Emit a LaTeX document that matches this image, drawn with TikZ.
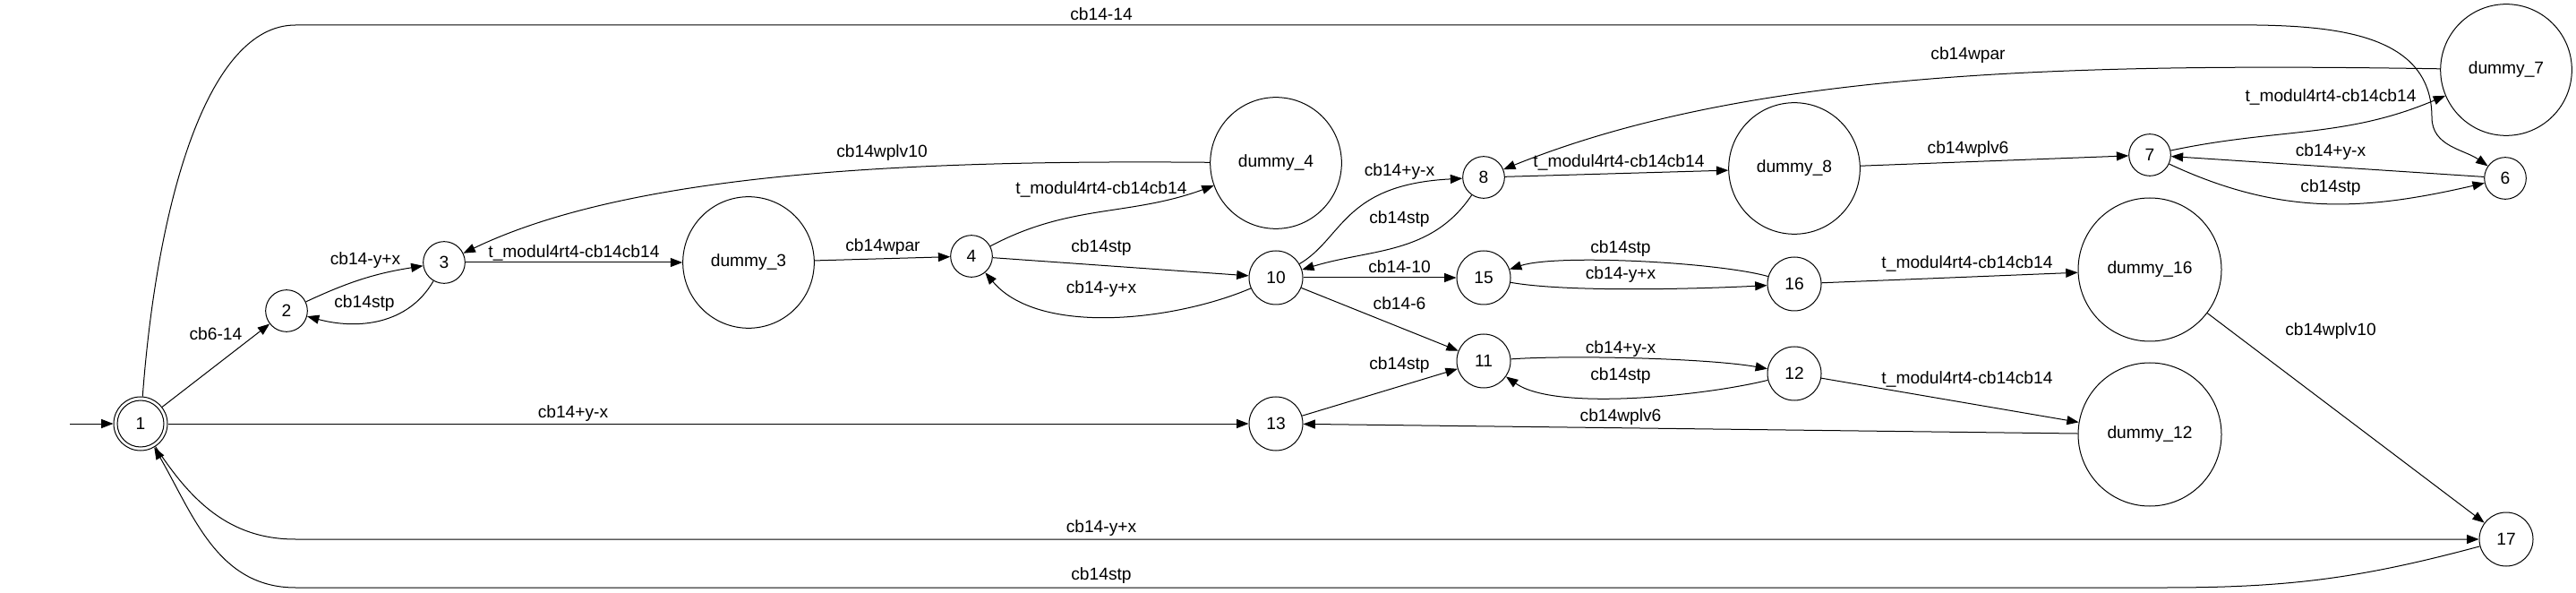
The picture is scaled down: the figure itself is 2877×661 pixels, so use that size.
\documentclass[tikz,border=0pt]{standalone}
\usepackage{fontspec}
\setmainfont{Liberation Sans}
\usetikzlibrary{arrows.meta,positioning}

\begin{document}
\begin{tikzpicture}[x=0.75pt,y=0.75pt,
		every node/.style={font=\fontsize{14.4}{16}\selectfont},
		st/.style={draw,circle,inner sep=0pt,minimum size=35pt,line width=0.75pt},
		st2/.style={st,minimum size=45pt},
		dum/.style={st,minimum size=110pt},
		dum2/.style={st,minimum size=120pt},
		edge/.style={line width=0.75pt,-{Triangle[length=10pt,width=7.5pt]}},
		lbl/.style={inner sep=0pt}]
		\useasboundingbox (0,0) rectangle (2877,661);
		% states
		\node[st2] (n1) at (157,188) {1};
		\draw[line width=0.75pt] (n1.center) circle[radius=19.5pt];
		\node[st] (n2) at (320,314) {2};
		\node[st] (n3) at (496,368) {3};
		\node[dum] (d3) at (836,368) {dummy\_3};
		\node[st] (n4) at (1085,375) {4};
		\node[dum] (d4) at (1425,479) {dummy\_4};
		\node[st2] (n10) at (1425,351) {10};
		\node[st2] (n13) at (1425,188) {13};
		\node[st] (n8) at (1657,463) {8};
		\node[st2] (n15) at (1657,351) {15};
		\node[st2] (n11) at (1657,258) {11};
		\node[dum] (d8) at (2004,473) {dummy\_8};
		\node[st2] (n16) at (2004,344) {16};
		\node[st2] (n12) at (2004,244) {12};
		\node[st] (n7) at (2401,488) {7};
		\node[dum2] (d16) at (2401,360) {dummy\_16};
		\node[dum2] (d12) at (2401,176) {dummy\_12};
		\node[dum] (d7) at (2799,583) {dummy\_7};
		\node[st] (n6) at (2798,462) {6};
		\node[st2] (n17) at (2799,59) {17};
		\coordinate (init) at (78,188);
		% labels
		\node[lbl] (l1) at (241,288) {cb6-14};
		\node[lbl] (l2) at (408,370) {cb14-y+x};
		\node[lbl] (l3) at (407,322) {cb14stp};
		\node[lbl] (l4) at (641,379) {t\_modul4rt4-cb14cb14};
		\node[lbl] (l5) at (986,385) {cb14wpar};
		\node[lbl] (l6) at (985,490) {cb14wplv10};
		\node[lbl] (l7) at (1230,450) {t\_modul4rt4-cb14cb14};
		\node[lbl] (l8) at (1230,384) {cb14stp};
		\node[lbl] (l9) at (1230,338) {cb14-y+x};
		\node[lbl] (l10) at (1230,645) {cb14-14};
		\node[lbl] (l11) at (640,199) {cb14+y-x};
		\node[lbl] (l12) at (1230,71) {cb14-y+x};
		\node[lbl] (l13) at (1230,18) {cb14stp};
		\node[lbl] (l14) at (1563,469) {cb14+y-x};
		\node[lbl] (l15) at (1563,416) {cb14stp};
		\node[lbl] (l16) at (1563,363) {cb14-10};
		\node[lbl] (l17) at (1563,322) {cb14-6};
		\node[lbl] (l18) at (1563,253) {cb14stp};
		\node[lbl] (l19) at (1808,480) {t\_modul4rt4-cb14cb14};
		\node[lbl] (l20) at (1810,383) {cb14stp};
		\node[lbl] (l21) at (1810,354) {cb14-y+x};
		\node[lbl] (l22) at (1810,271) {cb14+y-x};
		\node[lbl] (l23) at (1810,241) {cb14stp};
		\node[lbl] (l24) at (1810,195) {cb14wplv6};
		\node[lbl] (l25) at (2198,599) {cb14wpar};
		\node[lbl] (l26) at (2198,494) {cb14wplv6};
		\node[lbl] (l27) at (2603,553) {t\_modul4rt4-cb14cb14};
		\node[lbl] (l28) at (2603,491) {cb14+y-x};
		\node[lbl] (l29) at (2603,451) {cb14stp};
		\node[lbl] (l30) at (2197,367) {t\_modul4rt4-cb14cb14};
		\node[lbl] (l31) at (2197,238) {t\_modul4rt4-cb14cb14};
		\node[lbl] (l32) at (2603,291) {cb14wplv10};
		% transitions
		\draw[edge] (init) -- (n1);
		\draw[edge] (n1) -- (n2);
		\draw[edge] (n2) to[bend left=8] (n3);
		\draw[edge] (n3) to[out=-120,in=-15] (n2);
		\draw[edge] (n3) -- (d3);
		\draw[edge] (d3) -- (n4);
		\draw[edge] (n4) to[out=28,in=200] (d4);
		\draw[edge] (d4) .. controls (1000,483) and (700,466) .. (n3);
		\draw[edge] (n4) -- (n10);
		\draw[edge] (n10) to[out=-157,in=-50,looseness=0.8] (n4);
		\draw[edge] (n10) .. controls (1500,395) and (1500,455) .. (n8);
		\draw[edge] (n8) to[out=-124,in=17] (n10);
		\draw[edge] (n10) -- (n15);
		\draw[edge] (n10) -- (n11);
		\draw[edge] (n13) -- (n11);
		\draw[edge] (n11) to[out=4,in=170,looseness=0.6] (n12);
		\draw[edge] (n12) to[out=194,in=-35,looseness=0.6] (n11);
		\draw[edge] (n12) -- (d12);
		\draw[edge] (d12) -- (n13);
		\draw[edge] (n15) to[out=-10,in=183,looseness=0.6] (n16);
		\draw[edge] (n16) to[out=164,in=18,looseness=0.5] (n15);
		\draw[edge] (n16) -- (d16);
		\draw[edge] (d16) -- (n17);
		\draw[edge] (n8) -- (d8);
		\draw[edge] (d8) -- (n7);
		\draw[edge] (n7) to[out=12,in=203] (d7);
		\draw[edge] (d7) .. controls (2300,591) and (1950,581) .. (n8);
		\draw[edge] (n6) -- (n7);
		\draw[edge] (n7) to[out=-25,in=193] (n6);
		\draw[edge] (n1) .. controls (175,430) and (230,633) .. (330,633) -- (2450,633) to[out=0,in=90] (2716,530) to[out=-90,in=145] (n6);
		\draw[edge] (n1) -- (n13);
		\draw[edge] (n1) to[out=-57,in=180] (330,59) -- (n17);
		\draw[edge] (n17) to[out=195,in=0] (2417,5) -- (330,5) to[out=180,in=-60] (n1);
	\end{tikzpicture}
\end{document}
